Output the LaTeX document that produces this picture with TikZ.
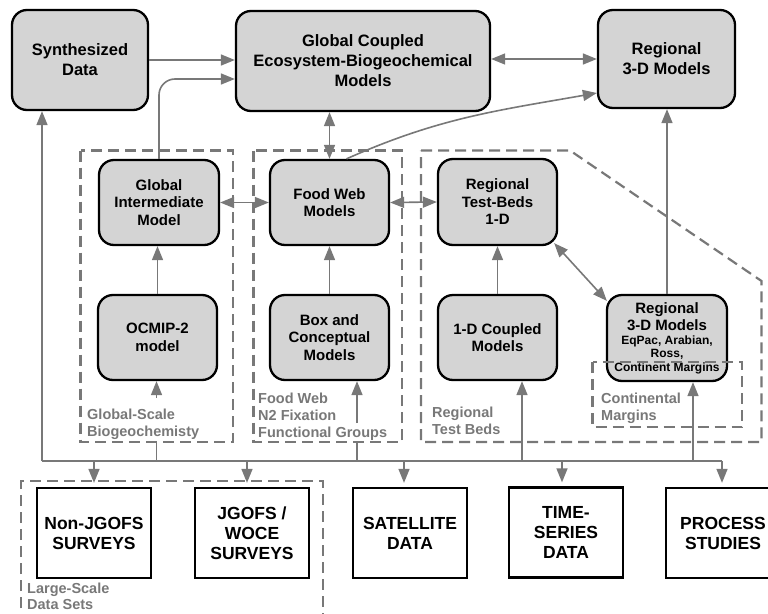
\documentclass[tikz,border=0pt]{standalone}
\usepackage{fontspec}
\setmainfont{Liberation Sans}
\usetikzlibrary{arrows.meta,calc}
\definecolor{nodefill}{RGB}{212,212,212}
\definecolor{lngray}{RGB}{120,120,120}
\newcommand\subfnt{\fontsize{12}{13}\selectfont}
\begin{document}
\begin{tikzpicture}[x=1pt,y=-1pt,
  rnode/.style={draw=black, line width=2.3pt, fill=nodefill, rounded corners=15pt, align=center, inner sep=0pt, font=\bfseries\fontsize{15}{17.5}\selectfont},
  topnode/.style={rnode, font=\bfseries\fontsize{16.5}{20}\selectfont},
  datanode/.style={draw=black, line width=2.3pt, fill=white, align=center, minimum width=114pt, minimum height=90pt, inner sep=0pt, font=\bfseries\fontsize{17.5}{20}\selectfont},
  arr/.style={draw=lngray, line width=1.6pt, -{Triangle[length=14pt,width=11pt]}},
  darr/.style={draw=lngray, line width=1.6pt, {Triangle[length=14pt,width=11pt]}-{Triangle[length=14pt,width=11pt]}},
  ln/.style={draw=lngray, line width=1.6pt},
  grp/.style={draw=lngray, line width=2.2pt, dash pattern=on 11pt off 6pt},
  lbl/.style={text=lngray, font=\bfseries\fontsize{14.5}{17}\selectfont, align=left, inner sep=0pt, anchor=north west},
]
\useasboundingbox (0,0) rectangle (768,613);

% top row
\node[topnode, minimum width=136pt, minimum height=100pt] (synth) at (80,60) {Synthesized\\Data};
\node[topnode, minimum width=254pt, minimum height=100pt] (glob) at (363,61) {Global Coupled\\Ecosystem-Biogeochemical\\Models};
\node[topnode, minimum width=137pt, minimum height=98pt] (reg3) at (666.5,59) {Regional\\3-D Models};

% middle rows
\node[rnode, minimum width=120pt, minimum height=85pt] (gim) at (159,202.5) {Global\\Intermediate\\Model};
\node[rnode, minimum width=119pt, minimum height=85pt] (ocm) at (157.5,337.5) {OCMIP-2\\model};
\node[rnode, minimum width=119pt, minimum height=85pt] (fw) at (329.5,202.5) {Food Web\\Models};
\node[rnode, minimum width=119pt, minimum height=85pt] (box) at (329.5,337.5) {Box and\\Conceptual\\Models};
\node[rnode, minimum width=119pt, minimum height=86pt] (rtb) at (497.5,202) {Regional\\Test-Beds\\1-D};
\node[rnode, minimum width=119pt, minimum height=85pt] (odc) at (497.5,337.5) {1-D Coupled\\Models};
\node[rnode, minimum width=120pt, minimum height=86pt] (reg3s) at (667,338) {Regional\\3-D Models\\[-4pt]{\subfnt EqPac, Arabian,}\\[-4pt]{\subfnt Ross,}\\[-4pt]{\subfnt Continent Margins}};

% data boxes
\node[datanode] (nj) at (94,533) {Non-JGOFS\\SURVEYS};
\node[datanode] (jw) at (252,533) {JGOFS /\\WOCE\\SURVEYS};
\node[datanode] (sat) at (410,533) {SATELLITE\\DATA};
\node[datanode] (ts) at (566,532.5) {TIME-\\SERIES\\DATA};
\node[datanode] (ps) at (723,533) {PROCESS\\STUDIES};

% top connectors
\draw[arr] (synth.east) -- (synth.east -| glob.west);
\draw[darr] (reg3.west -| glob.east) -- (reg3.west);
\draw[arr, rounded corners=16pt] (gim.north) |- ($(glob.west)+(0,18)$);
\draw[darr] (fw.north) -- (fw.north |- glob.south);
\draw[arr] ($(fw.north)+(17,0)$) to[out=24, in=190] ($(reg3.west)+(0,34)$);

% middle connectors
\draw[darr] (gim.east) -- (fw.west);
\draw[darr] (fw.east) -- (rtb.west);
\draw[arr] (ocm.north) -- (ocm.north |- gim.south);
\draw[arr] (box.north) -- (fw.south);
\draw[arr] (odc.north) -- (rtb.south);
\draw[darr] ($(rtb.south east)+(-4,-3)$) -- ($(reg3s.north west)+(1,7)$);
\draw[arr] (reg3s.north) -- (reg3s.north |- reg3.south);

% bus
\coordinate (busL) at (42,461);
\coordinate (busR) at (722,461);
\draw[ln] (busL) -- (busR);
\draw[arr] (busL) -- (busL |- synth.south);

\coordinate (oA) at (156.5,398);
\coordinate (oB) at (156.5,442);
\draw[arr] (oA) -- (oA |- ocm.south);
\draw[ln] (oB) -- (oB |- busL);

\coordinate (bA) at (357,423);
\coordinate (bB) at (357,442);
\draw[arr] (bA) -- (bA |- box.south);
\draw[ln] (bB) -- (bB |- busL);

\coordinate (c1) at (522,461);
\draw[arr] (c1) -- (c1 |- odc.south);
\coordinate (c2) at (693,461);
\draw[arr] (c2) -- (c2 |- reg3s.south);

\coordinate (d1) at (94,461);
\coordinate (d2) at (247,461);
\coordinate (d3) at (404,461);
\coordinate (d4) at (562,461);
\coordinate (d5) at (722,461);
\draw[arr, shorten >=4pt] (d1) -- (d1 |- nj.north);
\draw[arr, shorten >=4pt] (d2) -- (d2 |- jw.north);
\draw[arr, shorten >=4pt] (d3) -- (d3 |- sat.north);
\draw[arr, shorten >=4pt] (d4) -- (d4 |- ts.north);
\draw[arr, shorten >=4pt] (d5) -- (d5 |- ps.north);

% labels
\node[lbl] (lgs) at (87,408.5) {Global-Scale\\Biogeochemisty};
\node[lbl] (lfw) at (258,392.5) {Food Web\\N2 Fixation\\Functional Groups};
\node[lbl] (lrt) at (432,407) {Regional\\Test Beds};
\node[lbl] (lcm) at (601,393) {Continental\\Margins};
\node[lbl, font=\bfseries\fontsize{14.5}{16}\selectfont] (lls) at (27,583) {Large-Scale\\Data Sets};

% group boxes
\draw[grp] (80.5,150.5) rectangle (233,442);
\draw[grp] (253.5,150.5) rectangle (402,442);
\draw[grp] (421,150.5) -- (570,150.5) -- (761.5,281) -- (761.5,442) -- (421,442) -- cycle;
\draw[grp] (592.5,362) rectangle (742,427);
\draw[grp] (21,625) -- (21,481) -- (323,481) -- (323,625);
\end{tikzpicture}
\end{document}
